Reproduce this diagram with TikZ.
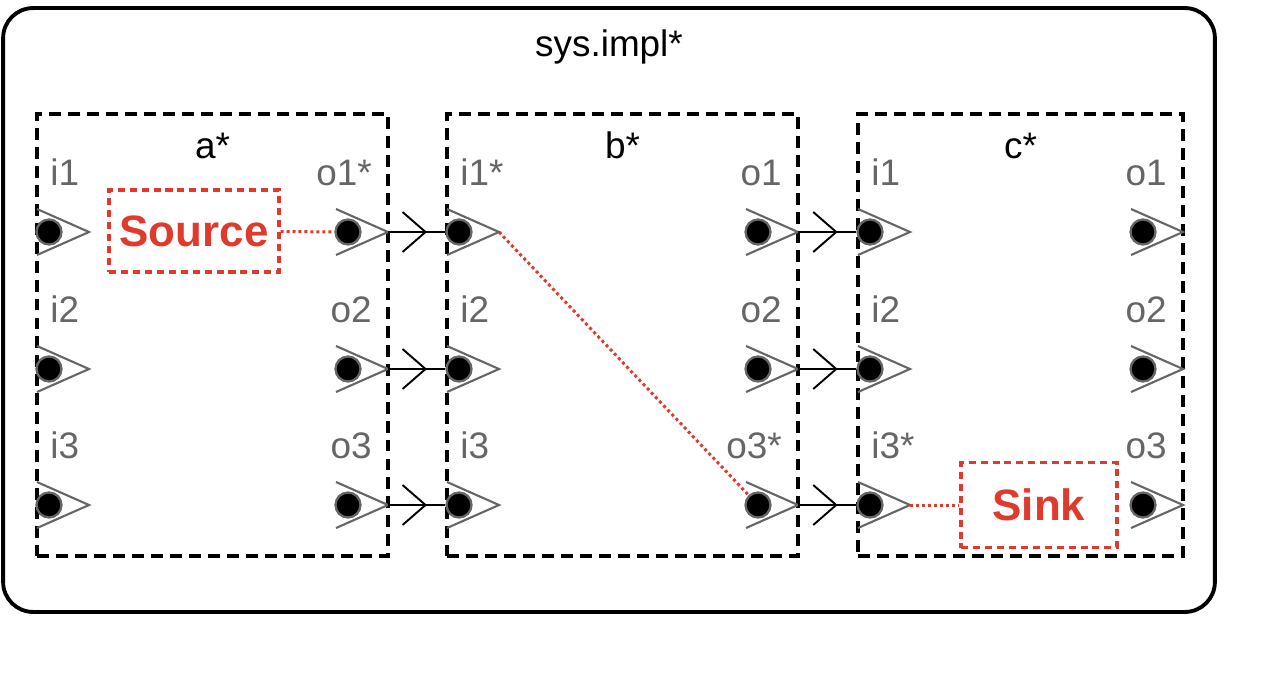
\documentclass[tikz,border=0pt]{standalone}
\usepackage{fontspec}
\setmainfont{Liberation Sans}
\usepackage{xcolor}
\usetikzlibrary{arrows.meta,decorations.markings}
\definecolor{portgray}{HTML}{666666}
\definecolor{tracered}{HTML}{E03A2C}

\begin{document}
\begin{tikzpicture}[x=0.02cm, y=-0.02cm]
  \tikzset{
    sysbox/.style={draw, line width=2.2pt, rounded corners=0.6cm, inner sep=0pt},
    compbox/.style={draw, line width=2.2pt, dash pattern=on 6.8pt off 4pt, inner sep=0pt},
    portdot/.style={circle, fill=black, draw=portgray, line width=1.3pt, minimum size=0.5cm, inner sep=0pt},
    chev/.style={draw=portgray, line width=1.2pt},
    plabel/.style={text=portgray, inner sep=0pt, font=\fontsize{21}{25}\selectfont},
    bname/.style={inner sep=0pt, font=\fontsize{21}{25}\selectfont},
    endbox/.style={draw=tracered, text=tracered, line width=1.8pt, dash pattern=on 4pt off 2.8pt, font=\bfseries\fontsize{25}{30}\selectfont},
    trace/.style={draw=tracered, line width=1.7pt, dash pattern=on 1.7pt off 1.7pt},
    flow/.style={draw=black, line width=1.1pt, postaction={decorate},
      decoration={markings, mark=at position 0.68 with {\arrow{Straight Barb[length=0.46cm, width=0.8cm]}}}}
  }
  \useasboundingbox (0,0) rectangle (1280,673);

  % system and its parts
  \node[sysbox, minimum width=24.24cm, minimum height=12.08cm] (sys) at (609,310) {};
  \node[bname, anchor=base] (sys-name) at (609,56) {sys.impl*};
  \node[compbox, minimum width=7.02cm, minimum height=8.84cm] (a) at (212.5,335) {};
  \node[compbox, minimum width=7.02cm, minimum height=8.84cm] (b) at (622.5,335) {};
  \node[compbox, minimum width=6.5cm, minimum height=8.84cm] (c) at (1020.5,335) {};
  \foreach \bx in {a,b,c}
    \node[bname, anchor=base] (\bx-name) at ([shift={(0,46)}]\bx.north) {\bx*};

  % ports
  \foreach \bx/\lx/\rx in {a/37/388, b/447/798, c/858/1183}
    \foreach \r/\y in {1/232, 2/369, 3/505} {
      \draw[chev] (\lx,\y-23) -- (\lx+52,\y) -- (\lx,\y+23);
      \node[portdot] (\bx-i\r) at (\lx+12,\y) {};
      \coordinate (\bx-i\r-tip) at (\lx+52,\y);
      \draw[chev] (\rx-52,\y-23) -- (\rx,\y) -- (\rx-52,\y+23);
      \node[portdot] (\bx-o\r) at (\rx-40,\y) {};
      \coordinate (\bx-o\r-tip) at (\rx,\y);
    }
  \foreach \p/\t in {a-i1/i1, a-i2/i2, a-i3/i3, b-i1/i1*, b-i2/i2, b-i3/i3, c-i1/i1, c-i2/i2, c-i3/i3*}
    \node[plabel, anchor=base west] (\p-lbl) at ([shift={(1,-47)}]\p) {\t};
  \foreach \p/\t in {a-o1/o1*, a-o2/o2, a-o3/o3, b-o1/o1, b-o2/o2, b-o3/o3*, c-o1/o1, c-o2/o2, c-o3/o3}
    \node[plabel, anchor=base east] (\p-lbl) at ([shift={(24,-47)}]\p) {\t};

  % source and sink
  \node[endbox, minimum width=3.4cm, minimum height=1.64cm] (source) at (194,231) {Source};
  \node[endbox, minimum width=3.12cm, minimum height=1.7cm] (sink) at (1039,505) {Sink};

  % connections
  \foreach \r in {1,2,3} {
    \draw[flow] (a-o\r-tip) -- (b-i\r);
    \draw[flow] (b-o\r-tip) -- (c-i\r);
  }
  \draw[trace] (source) -- (a-o1);
  \draw[trace] (b-i1-tip) -- (b-o3);
  \draw[trace] (c-i3-tip) -- (sink);
\end{tikzpicture}
\end{document}
